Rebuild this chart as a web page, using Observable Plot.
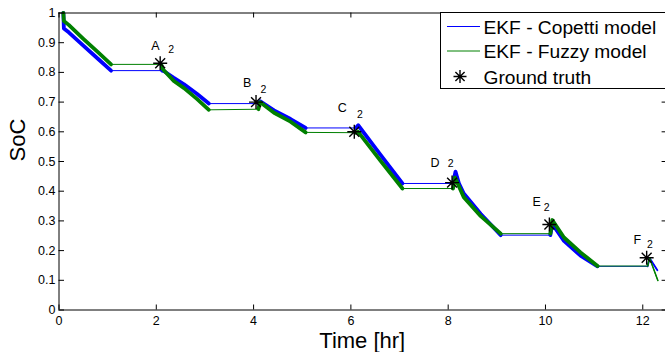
<!DOCTYPE html>
<html>
<head>
<meta charset="utf-8">
<script src="https://cdn.jsdelivr.net/npm/d3@7"></script>
<script src="https://cdn.jsdelivr.net/npm/@observablehq/plot@0.6"></script>
<style>
  body { margin: 0; background: #fff; font-family: "Liberation Sans", Arial, sans-serif; }
  #wrap { position: relative; width: 665px; height: 352px; overflow: hidden; background: #fff; }
  #legend { position: absolute; left: 440px; top: 12px; width: 240px; height: 77px; box-sizing: border-box;
            border: 1px solid #000; background: #fff; }
  #legend svg { position: absolute; left: -1px; top: -1px; overflow: visible; }
</style>
</head>
<body>
<div id="wrap">
  <div id="chart"></div>
  <div id="legend"></div>
</div>
<script>
// ---------- data ----------
const copettiT   = [0.09, 0.1, 0.2, 0.5, 0.8, 1.07, 2.12, 2.16, 2.36, 2.57, 2.84, 3.08, 4.1, 4.13, 4.42, 4.76, 5.07, 6.1, 6.15, 6.61, 7.06, 8.1, 8.15, 8.22, 8.32, 8.67, 9.08, 10.1, 10.14, 10.38, 10.72, 11.07, 12.1, 12.14, 12.3];
const copettiSoC = [1.0, 0.948, 0.935, 0.89, 0.846, 0.806, 0.806, 0.804, 0.782, 0.760, 0.727, 0.695, 0.695, 0.703, 0.672, 0.643, 0.613, 0.613, 0.622, 0.522, 0.426, 0.426, 0.466, 0.427, 0.392, 0.323, 0.252, 0.252, 0.29, 0.233, 0.183, 0.147, 0.147, 0.175, 0.134];

const fuzzyT   = [0.09, 0.1, 0.2, 0.5, 0.8, 1.07, 2.1, 2.14, 2.36, 2.57, 2.84, 3.08, 4.1, 4.13, 4.42, 4.76, 5.07, 6.1, 6.15, 6.61, 7.06, 8.1, 8.14, 8.32, 8.67, 9.08, 10.1, 10.14, 10.38, 10.72, 11.07, 12.1, 12.14, 12.31];
const fuzzySoC = [1.0, 0.973, 0.96, 0.913, 0.868, 0.827, 0.827, 0.81, 0.771, 0.747, 0.71, 0.674, 0.676, 0.70, 0.664, 0.634, 0.598, 0.597, 0.60, 0.502, 0.409, 0.409, 0.446, 0.38, 0.316, 0.257, 0.257, 0.303, 0.244, 0.194, 0.148, 0.148, 0.175, 0.099];

// discharge pulse windows (hr)
const pulseStart = [0.09, 2.1, 4.1, 6.1, 8.1, 10.1, 12.1];
const pulseEnd   = [1.07, 3.08, 5.07, 7.06, 9.08, 11.07, 12.35];

// ground truth
const truthT   = [2.08, 4.05, 6.07, 8.08, 10.08, 12.08];
const truthSoC = [0.831, 0.70, 0.60, 0.429, 0.288, 0.176];

// annotation letters and their subscripts
const letters   = ["A", "B", "C", "D", "E", "F"];
const letterT   = [1.984, 3.87, 5.823, 7.728, 9.819, 11.89];
const letterSoC = [0.889, 0.764, 0.679, 0.496, 0.362, 0.235];
const subText   = ["2", "2", "2", "2", "2", "2"];
const subT      = [2.307, 4.2, 6.186, 8.05, 10.025, 12.149];
const subSoC    = [0.876, 0.743, 0.659, 0.493, 0.345, 0.22];

// axes
const xTicks = [0, 2, 4, 6, 8, 10, 12];
const xTickLabels = ["0", "2", "4", "6", "8", "10", "12"];
const yTicks = [0, 0.1, 0.2, 0.3, 0.4, 0.5, 0.6, 0.7, 0.8, 0.9, 1];
const yTickLabels = ["0", "0.1", "0.2", "0.3", "0.4", "0.5", "0.6", "0.7", "0.8", "0.9", "1"];
const xDomain = [0, 12.5];
const yDomain = [0, 1];
const xTitle = "Time [hr]";
const yTitle = "SoC";
const seriesNames = ["EKF - Copetti model", "EKF - Fuzzy model", "Ground truth"];

// ---------- build tables ----------
function pulseOf(t) {
  for (let i = 0; i < pulseStart.length; i++) if (t >= pulseStart[i] - 1e-9 && t <= pulseEnd[i] + 1e-9) return i;
  return -1;
}
const copetti = copettiT.map((t, i) => ({t, soc: copettiSoC[i], pulse: pulseOf(t)}));
const fuzzy = fuzzyT.map((t, i) => ({t, soc: fuzzySoC[i], pulse: pulseOf(t)}));
const truth = truthT.map((t, i) => ({t, soc: truthSoC[i]}));
const letterRows = letters.map((l, i) => ({l, t: letterT[i], soc: letterSoC[i]}));
const subRows = subText.map((s, i) => ({s, t: subT[i], soc: subSoC[i]}));

const asterisk = {
  draw(ctx, size) {
    const r = Math.sqrt(size / Math.PI), d = r * Math.SQRT1_2;
    ctx.moveTo(-r, 0); ctx.lineTo(r, 0);
    ctx.moveTo(0, -r); ctx.lineTo(0, r);
    ctx.moveTo(-d, -d); ctx.lineTo(d, d);
    ctx.moveTo(-d, d); ctx.lineTo(d, -d);
  }
};

const W = 665, H = 352, mL = 58.5, mT = 12.5, mB = 42.5, mR = 0;
const frameW = W - mL - mR, frameH = H - mT - mB;
const xPerUnit = (W - mL + 1.6) / xDomain[1];
const BLUE = "#0000ff", GREEN = "#008000";
const font = "'Liberation Sans', Arial, sans-serif";

const thick = (data, last) => data.filter(d => last ? d.pulse === pulseStart.length - 1 : d.pulse >= 0 && d.pulse < pulseStart.length - 1);

const plot = Plot.plot({
  width: W, height: H,
  marginLeft: mL, marginTop: mT, marginBottom: mB, marginRight: mR,
  x: {domain: xDomain, range: [mL, mL + xPerUnit * xDomain[1]], axis: null},
  y: {domain: yDomain, range: [H - mB, mT], axis: null},
  style: {fontFamily: font, background: "white", color: "black"},
  marks: [
    // Copetti
    Plot.line(copetti, {x: "t", y: "soc", stroke: BLUE, strokeWidth: 1}),
    Plot.line(thick(copetti, false), {x: "t", y: "soc", z: "pulse", stroke: BLUE, strokeWidth: 3.8, strokeLinejoin: "round"}),
    Plot.line(thick(copetti, true), {x: "t", y: "soc", z: "pulse", stroke: BLUE, strokeWidth: 1.8}),
    // Fuzzy
    Plot.line(fuzzy, {x: "t", y: "soc", stroke: GREEN, strokeWidth: 1}),
    Plot.line(thick(fuzzy, false), {x: "t", y: "soc", z: "pulse", stroke: GREEN, strokeWidth: 3.8, strokeLinejoin: "round"}),
    Plot.line(thick(fuzzy, true), {x: "t", y: "soc", z: "pulse", stroke: GREEN, strokeWidth: 1.5}),
    // Ground truth
    Plot.dot(truth, {x: "t", y: "soc", r: 7, symbol: asterisk, stroke: "black", fill: "none", strokeWidth: 1.4}),
    // annotations
    Plot.text(letterRows, {x: "t", y: "soc", text: "l", fontSize: 12.5, fill: "black"}),
    Plot.text(subRows, {x: "t", y: "soc", text: "s", fontSize: 10.5, fill: "black"}),
    // box
    Plot.ruleY([yDomain[0], yDomain[1]], {stroke: "black", strokeWidth: 1}),
    Plot.ruleX([xDomain[0]], {stroke: "black", strokeWidth: 1}),
    // inward ticks
    Plot.tickX(xTicks, {x: d => d, insetTop: frameH - 5, stroke: "black"}),
    Plot.tickX(xTicks, {x: d => d, insetBottom: frameH - 5, stroke: "black"}),
    Plot.tickY(yTicks, {y: d => d, insetRight: frameW - 5.5, stroke: "black"}),
    Plot.tickY(yTicks, {y: d => d, insetLeft: frameW - 3.4, stroke: "black"}),
    // tick labels
    Plot.text(xTicks, {x: d => d, text: (d, i) => xTickLabels[i], frameAnchor: "bottom", dy: 10.5, lineAnchor: "middle", fontSize: 12.5, fill: "black"}),
    Plot.text(yTicks, {y: d => d, text: (d, i) => yTickLabels[i], frameAnchor: "left", dx: -3.5, textAnchor: "end", fontSize: 12.5, fill: "black"}),
    // titles
    Plot.text([xTitle], {frameAnchor: "bottom", dy: 30.5, lineAnchor: "middle", fontSize: 22, fill: "black"}),
    Plot.text([yTitle], {frameAnchor: "left", dx: -41, rotate: -90, lineAnchor: "middle", fontSize: 22, fill: "black"})
  ]
});
document.getElementById("chart").appendChild(plot);

// ---------- legend ----------
const ns = "http://www.w3.org/2000/svg";
const lg = document.createElementNS(ns, "svg");
lg.setAttribute("width", 240); lg.setAttribute("height", 78);
lg.style.fontFamily = font;
const rows = [
  {y: 14.5, type: "line", color: BLUE},
  {y: 39, type: "line", color: GREEN},
  {y: 64.5, type: "star"}
];
rows.forEach((r, i) => {
  if (r.type === "line") {
    const ln = document.createElementNS(ns, "line");
    ln.setAttribute("x1", 7); ln.setAttribute("x2", 40);
    ln.setAttribute("y1", r.y); ln.setAttribute("y2", r.y);
    ln.setAttribute("stroke", r.color); ln.setAttribute("stroke-width", 1);
    lg.appendChild(ln);
  } else {
    const p = document.createElementNS(ns, "path");
    const cx = 20, cy = r.y, rr = 6.5, d = rr * Math.SQRT1_2;
    p.setAttribute("d", `M${cx-rr},${cy}H${cx+rr}M${cx},${cy-rr}V${cy+rr}M${cx-d},${cy-d}L${cx+d},${cy+d}M${cx-d},${cy+d}L${cx+d},${cy-d}`);
    p.setAttribute("stroke", "black"); p.setAttribute("stroke-width", 1.4); p.setAttribute("fill", "none");
    lg.appendChild(p);
  }
  const tx = document.createElementNS(ns, "text");
  tx.setAttribute("x", 43.5); tx.setAttribute("y", r.y + 0.5);
  tx.setAttribute("dominant-baseline", "central");
  tx.setAttribute("font-size", 19.2);
  tx.textContent = seriesNames[i];
  lg.appendChild(tx);
});
document.getElementById("legend").appendChild(lg);
</script>
</body>
</html>
